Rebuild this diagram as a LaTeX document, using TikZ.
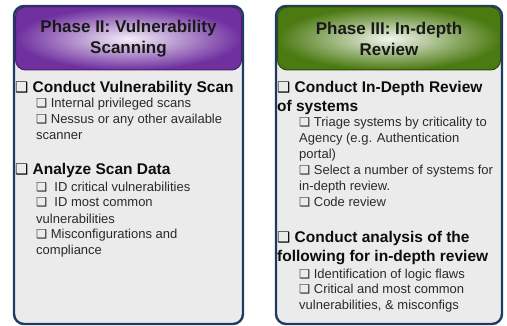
\documentclass[tikz,border=0pt]{standalone}
\usepackage{fontspec}
\setmainfont{Liberation Sans}
\newfontfamily\boxfont[Scale=0.95]{DejaVu Sans}
\usetikzlibrary{positioning}
\definecolor{navyline}{HTML}{1F3A63}
\definecolor{panelgrey}{HTML}{EBEBEB}
\definecolor{phasepurple}{HTML}{7030A0}
\definecolor{purpleedge}{HTML}{4A1E6E}
\definecolor{phasegreen}{HTML}{4C7A12}
\definecolor{greenedge}{HTML}{2E4A0C}
\definecolor{itemgrey}{HTML}{2A2A2A}
\newcommand{\cbox}{{\boxfont ❑}}

\begin{document}
\begin{tikzpicture}[x=1pt, y=-1pt,
panelbox/.style={rectangle, rounded corners=10pt, draw=navyline, line width=2.4pt, fill=panelgrey, inner sep=0pt},
headbox/.style={rectangle, rounded corners=10pt, line width=1pt, inner sep=0pt, minimum height=63pt, align=center, font=\fontsize{17}{21}\selectfont\bfseries, text=black!90},
purplehead/.style={headbox, draw=purpleedge, inner color=white!92!phasepurple, outer color=phasepurple},
greenhead/.style={headbox, draw=greenedge, inner color=white!92!phasegreen, outer color=phasegreen},
mainitem/.style={anchor=base west, inner sep=0pt, align=left, font=\fontsize{15.5}{18.5}\selectfont\bfseries, text=black!95},
subitem/.style={anchor=base west, inner sep=0pt, align=left, font=\fontsize{13}{16}\selectfont, text=itemgrey},
]
\useasboundingbox (0,0) rectangle (507,326);

%Panels
\node[panelbox, minimum width=229pt, minimum height=318pt] (scanpanel)   at (128.5,165) {};
\node[panelbox, minimum width=226pt, minimum height=318pt] (reviewpanel) at (389,165)   {};

%Headers
\node[purplehead, minimum width=226pt] (scanhead)   at (128.5,38.5) {Phase II: Vulnerability\\Scanning};
\node[greenhead,  minimum width=223pt] (reviewhead) at (389,38.5)   {Phase III: In-depth\\Review};

%Phase II items (placed at baseline of last line)
\node[mainitem] (vulnscan)  at (15,93)  {\cbox\ Conduct Vulnerability Scan};
\node[subitem]  (vulnsub)   at (36,140) {\cbox\ Internal privileged scans\\\cbox\ Nessus or any other available\\scanner};
\node[mainitem] (scandata)  at (15,175) {\cbox\ Analyze Scan Data};
\node[subitem]  (datasub)   at (36,255) {\cbox\ \ ID critical vulnerabilities\\\cbox\ \ ID most common\\vulnerabilities\\\cbox\ Misconfigurations and\\compliance};

%Phase III items
\node[mainitem] (deepreview) at (277,111.5) {\cbox\ Conduct In-Depth Review\\of systems};
\node[subitem]  (reviewsub)  at (299,207)   {\cbox\ Triage systems by criticality to\\Agency (e.g. Authentication\\portal)\\\cbox\ Select a number of systems for\\in-depth review.\\\cbox\ Code review};
\node[mainitem] (analysis)   at (277,261.5) {\cbox\ Conduct analysis of the\\following for in-depth review};
\node[subitem]  (analysissub) at (299,310)  {\cbox\ Identification of logic flaws\\\cbox\ Critical and most common\\vulnerabilities, \& misconfigs};
\end{tikzpicture}
\end{document}
